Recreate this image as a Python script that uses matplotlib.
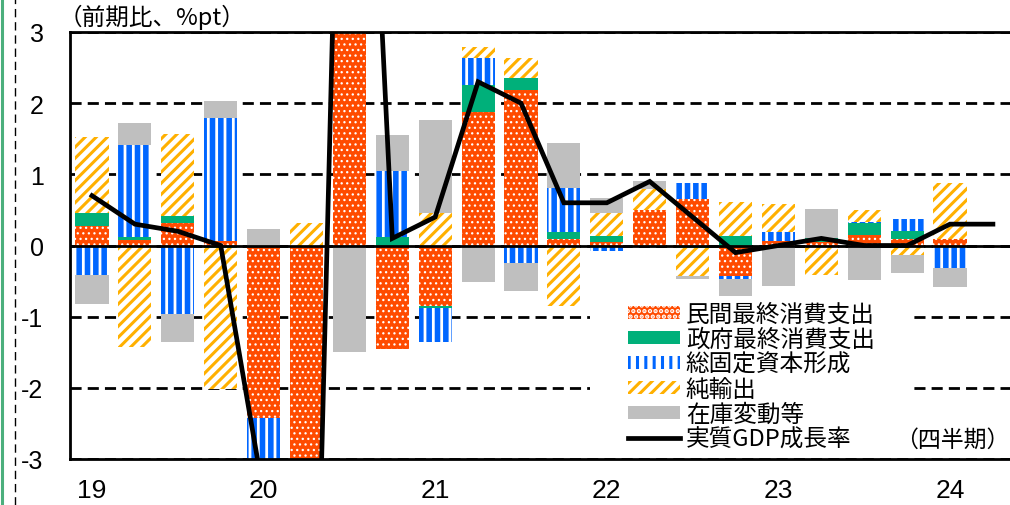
import numpy as np
import matplotlib
matplotlib.use('Agg')
from matplotlib import pyplot as plt
from matplotlib.lines import Line2D
from matplotlib.patches import Rectangle

plt.rcParams['font.family'] = ['Liberation Sans', 'DejaVu Sans']
plt.rcParams['axes.unicode_minus'] = False

# 四半期 19Q1〜24Q1（内訳）、GDPは24Q2まで
years = ['19', '20', '21', '22', '23', '24']
priv = [0.27, 0.075, 0.31, 0.07, -2.42, -6.5, 7.5, -1.45, -0.85, 1.88, 2.19, 0.085,
        0.05, 0.50, 0.65, -0.43, 0.07, 0.05, 0.15, 0.09, 0.09]
gov = [0.18, 0.04, 0.11, -0.04, 0.0, 0.0, 0.0, 0.12, -0.03, 0.38, 0.16, 0.10,
       0.08, 0.0, -0.03, 0.13, 0.0, 0.06, 0.16, 0.12, 0.0]
inv = [-0.41, 1.30, -0.96, 1.72, -1.0, -3.0, 0.0, 0.92, -0.47, 0.37, -0.25, 0.62,
       -0.08, 0.0, 0.23, -0.04, 0.12, 0.0, 0.02, 0.16, -0.32]
netx = [1.07, -1.43, 1.14, -1.98, 0.0, 0.31, 0.0, 0.0, 0.46, 0.16, 0.29, -0.85,
        0.33, 0.30, -0.40, 0.48, 0.39, -0.42, 0.17, -0.13, 0.79]
stock = [-0.41, 0.30, -0.40, 0.24, 0.23, 0.0, -1.5, 0.51, 1.30, -0.51, -0.39, 0.64,
         0.21, 0.10, -0.04, -0.24, -0.57, 0.40, -0.49, -0.25, -0.26]
gdp = [0.7, 0.3, 0.2, 0.0, -3.5, -11.4, 12.4, 0.1, 0.4, 2.3, 2.0, 0.6,
       0.6, 0.9, 0.4, -0.1, 0.0, 0.1, 0.0, 0.0, 0.3, 0.3]

fig = plt.figure(figsize=(10.1, 5.06), dpi=100)
ax = fig.add_axes([70 / 1010, 1 - 460 / 506, 1 - 70 / 1010, (460 - 33) / 506])

series = [
    (priv, '民間最終消費支出', dict(color='#FF4B00', edgecolor='white', hatch='...'), 0.9),
    (gov, '政府最終消費支出', dict(color='#00B07A'), None),
    (inv, '総固定資本形成', dict(color='white', edgecolor='#0066FF', hatch='||'), 4.0),
    (netx, '純輸出', dict(color='white', edgecolor='#FFB000', hatch='///'), 2.2),
    (stock, '在庫変動等', dict(color='#BFBFBF'), None),
]

xb = np.arange(len(priv))
pos = np.zeros(len(priv))
neg = np.zeros(len(priv))
for vals, label, st, hlw in series:
    v = np.array(vals)
    base = np.where(v >= 0, pos, neg)
    if hlw is not None:
        plt.rcParams['hatch.linewidth'] = hlw
    bars = ax.bar(xb, v, 0.77, bottom=base, label=label, linewidth=0, zorder=2, **st)
    if hlw is not None:
        for b in bars:
            if hasattr(b, 'set_hatch_linewidth'):
                b.set_hatch_linewidth(hlw)
    pos += np.clip(v, 0, None)
    neg += np.clip(v, None, 0)

ax.plot(np.arange(len(gdp)), gdp, color='black', lw=3.4, label='実質GDP成長率',
        zorder=4, solid_joinstyle='miter')
ax.axhline(0, color='black', lw=2, zorder=3)

ax.set_xlim(-22 / 42.9, 918 / 42.9)
ax.set_ylim(-3, 3)
ax.set_yticks(range(-3, 4))
ax.set_xticks(range(0, 21, 4))
ax.set_xticklabels(years)
ax.tick_params(length=0)
ax.tick_params(axis='y', labelsize=18, pad=19)
ax.tick_params(axis='x', labelsize=19, pad=14)

ax.set_axisbelow(True)
ax.yaxis.grid(True, color='black', lw=2, linestyle=(0, (4, 2.2)))
for s in ['left', 'bottom', 'top']:
    ax.spines[s].set_linewidth(2)
ax.spines['right'].set_visible(False)

# 凡例の背景（白）
ax.add_patch(Rectangle((590, 506 - 455), 322, 155, transform=None, facecolor='white',
                       edgecolor='none', zorder=1))

cjk = ['Noto Sans CJK JP', 'DejaVu Sans']
handles, labels = ax.get_legend_handles_labels()
handles = handles[1:] + handles[:1]
labels = labels[1:] + labels[:1]
leg = ax.legend(handles, labels, loc='upper left',
                bbox_to_anchor=(628 / 1010, 1 - 304 / 506),
                bbox_transform=fig.transFigure, frameon=False, borderpad=0,
                borderaxespad=0, handlelength=2.2, handleheight=0.46,
                handletextpad=0.25, labelspacing=0.08,
                prop=dict(family=cjk, size=17))
leg.set_zorder(6)

fig.text(59 / 1010, 1 - 17 / 506, '（前期比、%pt）', family=cjk, fontsize=17,
         ha='left', va='center')
fig.text(1009 / 1010, 1 - 440 / 506, '（四半期）', family=cjk, fontsize=16.5,
         ha='right', va='center')

# スライドの枠線
fig.add_artist(Line2D([1.5 / 1010, 1.5 / 1010], [0, 1], transform=fig.transFigure,
                      color='#4CAF7D', lw=2.2))
fig.add_artist(Line2D([15 / 1010, 15 / 1010], [0, 1], transform=fig.transFigure,
                      color='black', lw=1, linestyle=(0, (6, 3.5))))

fig.savefig('out.png', dpi=100)
